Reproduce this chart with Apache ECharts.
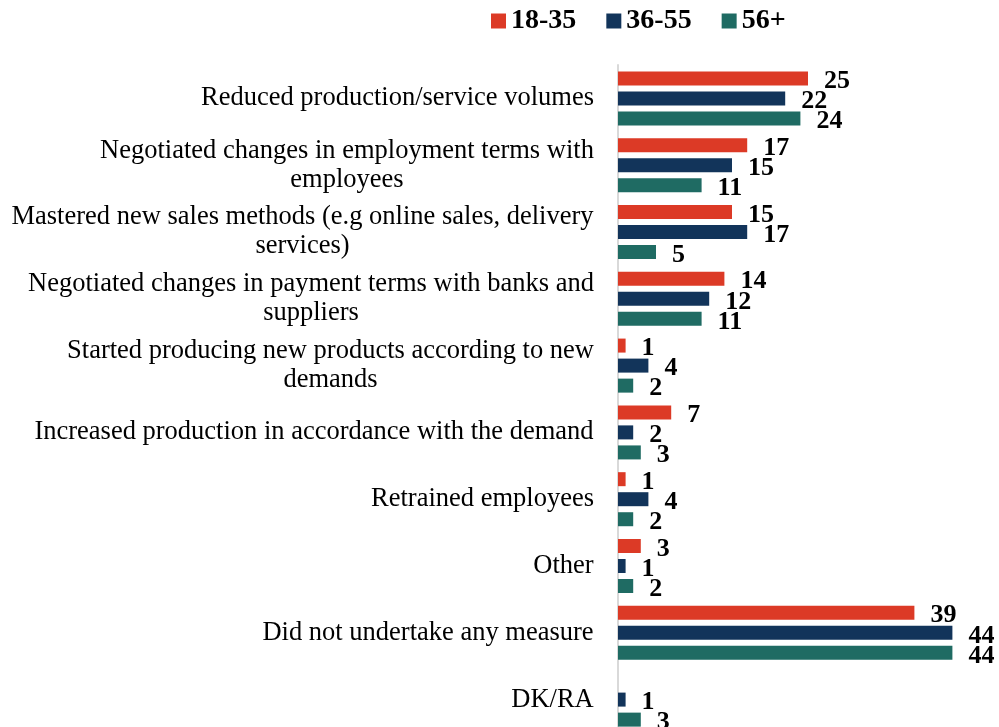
<!DOCTYPE html>
<html>
<head>
<meta charset="utf-8">
<script src="https://cdn.jsdelivr.net/npm/echarts@6/dist/echarts.min.js"></script>
<style>
  html, body { margin: 0; padding: 0; background: #fff; }
  #chart { width: 999px; height: 727px; }
</style>
</head>
<body>
<div id="chart"></div>
<script>
// Measures taken, by age group (%)
const categories = [
  'Reduced production/service volumes',
  'Negotiated changes in employment terms with\nemployees',
  'Mastered new sales methods (e.g online sales, delivery\nservices)',
  'Negotiated changes in payment terms with banks and\nsuppliers',
  'Started producing new products according to new\ndemands',
  'Increased production in accordance with the demand',
  'Retrained employees',
  'Other',
  'Did not undertake any measure',
  'DK/RA'
];
const age18to35 = [25, 17, 15, 14, 1, 7, 1, 3, 39, 0];
const age36to55 = [22, 15, 17, 12, 4, 2, 4, 1, 44, 1];
const age56plus = [24, 11, 5, 11, 2, 3, 2, 2, 44, 3];
const seriesNames = ['18-35', '36-55', '56+'];
const colors = ['#dc3a26', '#12345a', '#1f6b63'];

const FONT = '"Liberation Serif", "Times New Roman", serif';
const CAT_FONT_SIZE = 26.5;

// Width of the widest line of each category label, so wrapped
// lines can be centred inside a right-aligned block.
const measureCtx = document.createElement('canvas').getContext('2d');
measureCtx.font = CAT_FONT_SIZE + 'px ' + FONT;
const labelWidths = categories.map(c =>
  Math.ceil(Math.max(...c.split('\n').map(line => measureCtx.measureText(line).width)))
);
const richStyles = {};
labelWidths.forEach((w, i) => {
  richStyles['c' + i] = {
    width: w,
    align: 'center',
    fontFamily: FONT,
    fontSize: CAT_FONT_SIZE,
    lineHeight: 29,
    color: '#000'
  };
});

const chart = echarts.init(document.getElementById('chart'));

function barSeries(name, values, color) {
  return {
    name: name,
    type: 'bar',
    data: values.map(v => (v === 0 ? null : v)),
    barWidth: 14,
    barGap: '43%',
    itemStyle: { color: color },
    label: {
      show: true,
      position: 'right',
      distance: 16,
      offset: [0, 3],
      color: '#000',
      fontFamily: FONT,
      fontWeight: 'bold',
      fontSize: 26
    }
  };
}

chart.setOption({
  animation: false,
  color: colors,
  legend: {
    top: 2,
    left: 486,
    itemWidth: 15,
    itemHeight: 15,
    itemGap: 30,
    icon: 'rect',
    textStyle: {
      fontFamily: FONT,
      fontWeight: 'bold',
      fontSize: 28,
      color: '#000'
    },
    data: seriesNames
  },
  grid: {
    left: 618,
    right: 1,
    top: 65,
    height: 668,
    outerBoundsMode: 'none'
  },
  xAxis: {
    type: 'value',
    min: 0,
    max: 50,
    show: false
  },
  yAxis: {
    type: 'category',
    inverse: true,
    data: categories,
    axisLine: { show: true, lineStyle: { color: '#d9d9d9', width: 2 } },
    axisTick: { show: false },
    axisLabel: {
      margin: 24,
      align: 'right',
      formatter: function (value, index) {
        return value.split('\n').map(line => '{c' + index + '|' + line + '}').join('\n');
      },
      rich: richStyles
    }
  },
  series: [
    barSeries(seriesNames[0], age18to35, colors[0]),
    barSeries(seriesNames[1], age36to55, colors[1]),
    barSeries(seriesNames[2], age56plus, colors[2])
  ]
});
</script>
</body>
</html>
